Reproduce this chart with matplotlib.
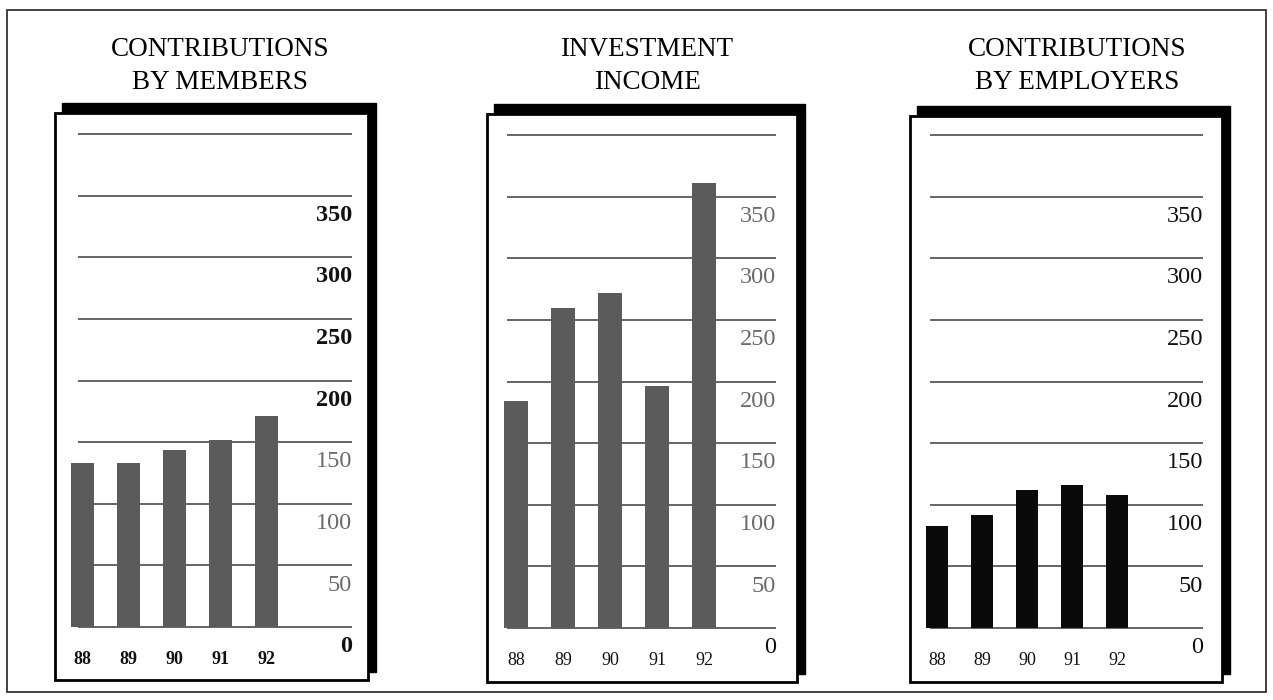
import matplotlib
matplotlib.use("Agg")
import matplotlib.pyplot as plt
from matplotlib.patches import Rectangle

# data
years = ["88", "89", "90", "91", "92"]
members = [133, 133, 144, 152, 171]
investment = [184, 260, 272, 196, 361]
employers = [83, 92, 112, 116, 108]
grid_values = [0, 50, 100, 150, 200, 250, 300, 350, 400]
tick_labels = ["0", "50", "100", "150", "200", "250", "300", "350"]
titles = ["CONTRIBUTIONS\nBY MEMBERS", "INVESTMENT\nINCOME", "CONTRIBUTIONS\nBY EMPLOYERS"]

W, H = 1273, 700
plt.rcParams['font.family'] = ['Liberation Serif', 'DejaVu Serif']
fig = plt.figure(figsize=(W / 100, H / 100), dpi=100)


def fx(px):
    return px / W


def fy(py):
    return 1 - py / H


def frect(x0, y0, x1, y1, **kw):
    # rectangle given in pixel corners (top-left, bottom-right), kept under the axes
    r = Rectangle((fx(x0), fy(y1)), fx(x1) - fx(x0), fy(y0) - fy(y1),
                  transform=fig.transFigure, zorder=-5, **kw)
    fig.patches.append(r)
    return r


# outer frame
frect(7, 10, 1266, 692, facecolor='none', edgecolor='#333333', lw=1.3)

# pixel layout of each panel
panels = [
    dict(box=(55, 113, 368, 680), x0=82, step=46, gl=(78, 352), base=627, top=134,
         title_x=220, values=members, bar='#5b5b5b', lab=None, bold=True),
    dict(box=(487, 114, 797, 682), x0=516, step=47, gl=(507, 776), base=628, top=135,
         title_x=647, values=investment, bar='#5b5b5b', lab='#6a6a6a', bold=False),
    dict(box=(910, 116, 1222, 682), x0=937, step=45, gl=(930, 1203), base=628, top=135,
         title_x=1077, values=employers, bar='#0a0a0a', lab='#111111', bold=False),
]

for p, title in zip(panels, titles):
    x0, y0, x1, y1 = p['box']
    # black drop shadow and white card
    frect(x0 + 7, y0 - 10, x1 + 8, y1 - 8, facecolor='black', edgecolor='black', lw=1)
    frect(x0, y0, x1, y1, facecolor='white', edgecolor='black', lw=2)

    fig.text(fx(p['title_x']), fy(66), title, ha='center', va='center',
             fontsize=19.5, linespacing=1.38, color='black')

    ax = fig.add_axes([fx(x0), fy(y1), fx(x1) - fx(x0), fy(y0) - fy(y1)])
    ax.set_facecolor('none')
    upp = 400 / (p['base'] - p['top'])  # value units per pixel
    ax.set_ylim(-(y1 - p['base']) * upp, (p['base'] - y0) * upp)
    ax.set_xlim((x0 - p['x0']) / p['step'], (x1 - p['x0']) / p['step'])
    for s in ax.spines.values():
        s.set_visible(False)
    ax.set_xticks([])
    ax.set_yticks([])

    gx0 = (p['gl'][0] - p['x0']) / p['step']
    gx1 = (p['gl'][1] - p['x0']) / p['step']
    ax.hlines(grid_values, gx0, gx1, color='#3a3a3a', lw=1.1, zorder=1)

    xs = list(range(len(years)))
    ax.bar(xs, p['values'], width=0.5, color=p['bar'], zorder=2)

    for v, t in zip(grid_values, tick_labels):
        if p['lab'] is None:
            dark = v >= 200 or v == 0
            c = '#111111' if dark else '#6a6a6a'
            fw = 'bold' if dark else 'normal'
        else:
            c = p['lab'] if v != 0 else '#111111'
            fw = 'normal'
        ax.text(gx1, v - 16, t, ha='right', va='center', fontsize=17.5,
                color=c, fontweight=fw)

    for x, yr in zip(xs, years):
        ax.text(x, -26, yr, ha='center', va='center', fontsize=13, color='#111111',
                fontweight='bold' if p['bold'] else 'normal')

fig.savefig("out.png", dpi=100)
